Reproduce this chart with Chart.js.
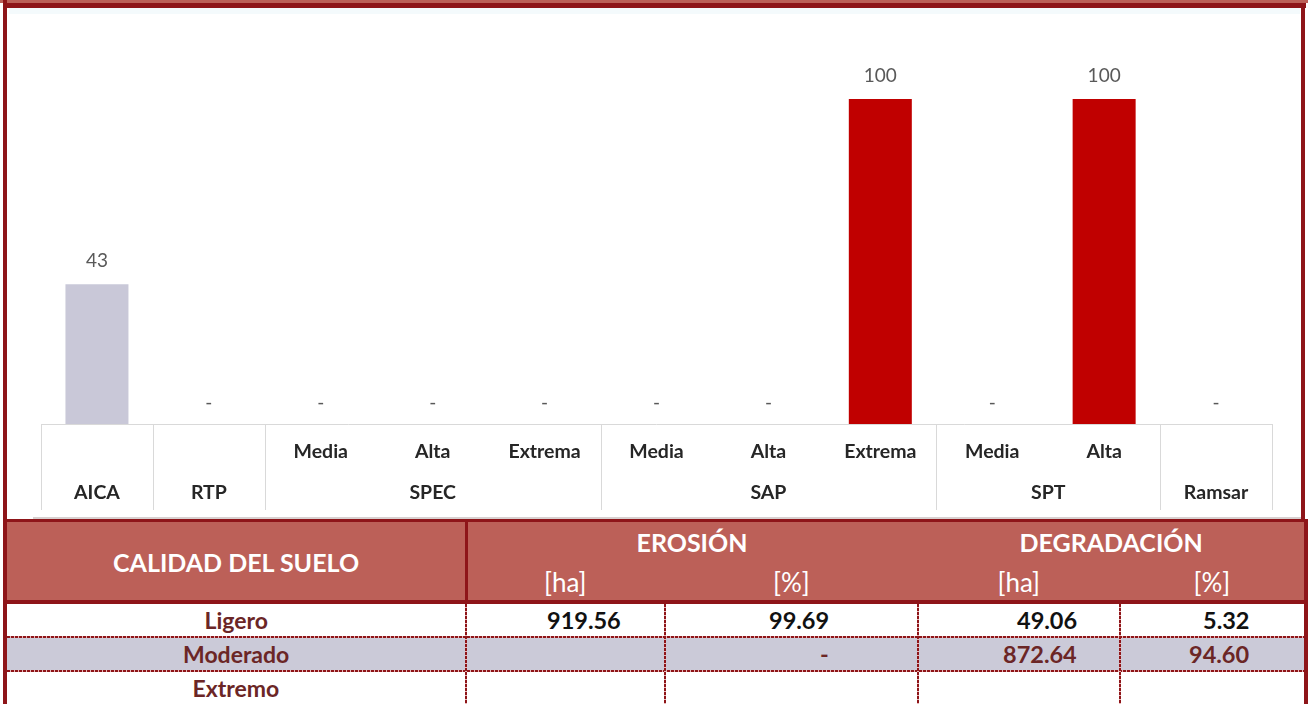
<!DOCTYPE html>
<html>
<head>
<meta charset="utf-8">
<script src="https://cdn.jsdelivr.net/npm/chart.js@4.4.1/dist/chart.umd.min.js"></script>
<style>
  html, body { margin:0; padding:0; }
  body { width:1308px; height:704px; overflow:hidden; background:#fff; position:relative; font-family:Lato, "Open Sans", sans-serif; }
  .abs { position:absolute; }
  .txt { position:absolute; white-space:nowrap; line-height:1; }
  #chartbox { position:absolute; left:7px; top:8px; width:1293px; height:509px; }
</style>
</head>
<body>
<div class="abs" style="left:0;top:0;width:1308px;height:3px;background:#BC6058"></div>
<div class="abs" style="left:3px;top:3px;width:1303px;height:5px;background:#8E1519"></div>
<div class="abs" style="left:9px;top:8px;width:1291px;height:6px;background:#F4FAFC"></div>
<div id="chartbox"><canvas id="c" width="1293" height="509"></canvas></div>
<div id="tbl"></div>
<div class="abs" style="left:3px;top:0;width:4px;height:704px;background:#8E1519"></div>
<div class="abs" style="left:1301px;top:3px;width:4px;height:516px;background:#8E1519"></div>
<div class="abs" style="left:1304px;top:519px;width:4px;height:185px;background:#8E1519"></div>

<script>
// ---------- chart data ----------
const subLabels   = ['', '', 'Media', 'Alta', 'Extrema', 'Media', 'Alta', 'Extrema', 'Media', 'Alta', ''];
const groupLabels = ['AICA', 'RTP', 'SPEC', 'SPEC', 'SPEC', 'SAP', 'SAP', 'SAP', 'SPT', 'SPT', 'Ramsar'];
const values      = [43, 0, 0, 0, 0, 0, 0, 100, 0, 100, 0];
const barColors   = ['#C9C8D8', '#C00000', '#C00000', '#C00000', '#C00000', '#C00000', '#C00000', '#C00000', '#C00000', '#C00000', '#C00000'];

// ---------- table data ----------
const tableTitle   = 'CALIDAD DEL SUELO';
const groupHeads   = ['EROSIÓN', 'DEGRADACIÓN'];
const unitHeads    = ['[ha]', '[%]', '[ha]', '[%]'];
const rowLabels    = ['Ligero', 'Moderado', 'Extremo'];
const erosionHa    = ['919.56', '', ''];
const erosionPct   = ['99.69', '-', ''];
const degradHa     = ['49.06', '872.64', ''];
const degradPct    = ['5.32', '94.60', ''];

const RED = '#8E1519', SALMON = '#BC6058', MAROON = '#6B2626', LAV = '#CBCAD8';
const FONT = 'Lato, "Open Sans", sans-serif';

const axisPlugin = {
  id: 'multiAxis',
  afterDraw(chart) {
    const ctx = chart.ctx, xs = chart.scales.x, ca = chart.chartArea;
    const n = subLabels.length;
    const half = (xs.getPixelForValue(1) - xs.getPixelForValue(0)) / 2;
    ctx.save();
    ctx.strokeStyle = '#D9D9D9';
    ctx.lineWidth = 1;
    ctx.beginPath();
    ctx.moveTo(ca.left, Math.round(ca.bottom) + 0.5);
    ctx.lineTo(ca.right, Math.round(ca.bottom) + 0.5);
    ctx.stroke();
    const runs = [];
    for (let i = 0; i < n; i++) {
      if (i === 0 || groupLabels[i] !== groupLabels[i - 1]) runs.push({ s: i, e: i, label: groupLabels[i] });
      else runs[runs.length - 1].e = i;
    }
    const bounds = runs.map(r => xs.getPixelForValue(r.s) - half);
    bounds.push(xs.getPixelForValue(n - 1) + half);
    ctx.beginPath();
    bounds.forEach(b => {
      const xb = Math.round(b) + 0.5;
      ctx.moveTo(xb, ca.bottom);
      ctx.lineTo(xb, ca.bottom + 86);
    });
    ctx.stroke();
    ctx.fillStyle = '#262626';
    ctx.font = 'bold 19.5px ' + FONT;
    ctx.textAlign = 'center';
    ctx.textBaseline = 'middle';
    for (let i = 0; i < n; i++) {
      if (subLabels[i]) ctx.fillText(subLabels[i], xs.getPixelForValue(i), ca.bottom + 28);
    }
    runs.forEach(r => {
      const cx = (xs.getPixelForValue(r.s) + xs.getPixelForValue(r.e)) / 2;
      ctx.fillText(r.label, cx, ca.bottom + 69);
    });
    const meta = chart.getDatasetMeta(0);
    ctx.fillStyle = '#595959';
    ctx.font = '19px ' + FONT;
    meta.data.forEach((bar, i) => {
      const v = values[i];
      if (v > 0) ctx.fillText(String(v), bar.x, bar.y - 23);
      else ctx.fillText('-', bar.x, ca.bottom - 21);
    });
    ctx.restore();
  }
};

new Chart(document.getElementById('c'), {
  type: 'bar',
  data: {
    labels: subLabels.map((s, i) => s || groupLabels[i]),
    datasets: [{ data: values, backgroundColor: barColors, borderWidth: 0, categoryPercentage: 1, barPercentage: 0.563 }]
  },
  options: {
    responsive: false,
    animation: false,
    layout: { padding: { left: 34, right: 28, top: 91, bottom: 93 } },
    plugins: { legend: { display: false }, tooltip: { enabled: false } },
    scales: {
      x: { display: false, offset: true },
      y: { display: false, min: 0, max: 100 }
    }
  },
  plugins: [axisPlugin]
});

// ---------- table ----------
const tbl = document.getElementById('tbl');
function box(l, t, w, h, style) {
  const d = document.createElement('div');
  d.className = 'abs';
  d.style.cssText = `left:${l}px;top:${t}px;width:${w}px;height:${h}px;` + (style || '');
  tbl.appendChild(d);
  return d;
}
function text(str, cx, cy, style, align, right) {
  const d = document.createElement('div');
  d.className = 'txt';
  d.textContent = str;
  d.style.cssText = style;
  tbl.appendChild(d);
  const w = d.offsetWidth, h = d.offsetHeight;
  d.style.left = (align === 'right' ? right - w : cx - w / 2) + 'px';
  d.style.top = (cy - h / 2) + 'px';
}
const cols = [7, 466, 665, 918, 1120, 1304];
const colPad = [0, 44, 89, 43, 55];
const hDash = `background:repeating-linear-gradient(90deg, ${RED} 0 3px, #E9B8B8 3px 4px);`;
const vDash = `background:repeating-linear-gradient(180deg, ${RED} 0 3px, #E9B8B8 3px 4px);`;
box(33, 517, 1268, 2, 'background:#D8D0D0');
box(3, 519, 1305, 3, 'background:' + RED);
box(7, 522, 1297, 78, 'background:' + SALMON);
box(465, 519, 3, 85, 'background:' + RED);
box(3, 600, 1305, 4, 'background:' + RED);
const hdrBold = `font:bold 25px ${FONT};color:#fff;`;
const hdrReg = `font:26px ${FONT};color:#fff;`;
text(tableTitle, 236, 562, hdrBold);
text(groupHeads[0], (cols[1] + cols[3]) / 2, 542, hdrBold);
text(groupHeads[1], (cols[3] + cols[5]) / 2, 542, hdrBold);
unitHeads.forEach((u, i) => text(u, (cols[i + 1] + cols[i + 2]) / 2, 582, hdrReg));
const rowTops = [604, 638, 672];
const rowH = 32;
box(7, 638, 1297, 32, 'background:' + LAV);
box(7, 636, 1297, 2, hDash);
box(7, 670, 1297, 2, hDash);
[466, 665, 918, 1120].forEach(x => box(x - 1, 604, 2, 100, vDash));
const bodyCols = [erosionHa, erosionPct, degradHa, degradPct];
rowLabels.forEach((lab, r) => {
  const cy = rowTops[r] + rowH / 2;
  text(lab, 236, cy, `font:bold 23px ${FONT};color:${MAROON};`);
  bodyCols.forEach((col, c) => {
    const v = col[r];
    if (!v) return;
    const color = r === 0 ? '#111' : MAROON;
    text(v, 0, cy, `font:bold 23.5px ${FONT};color:${color};`, 'right', cols[c + 2] - colPad[c + 1]);
  });
});
</script>
</body>
</html>
